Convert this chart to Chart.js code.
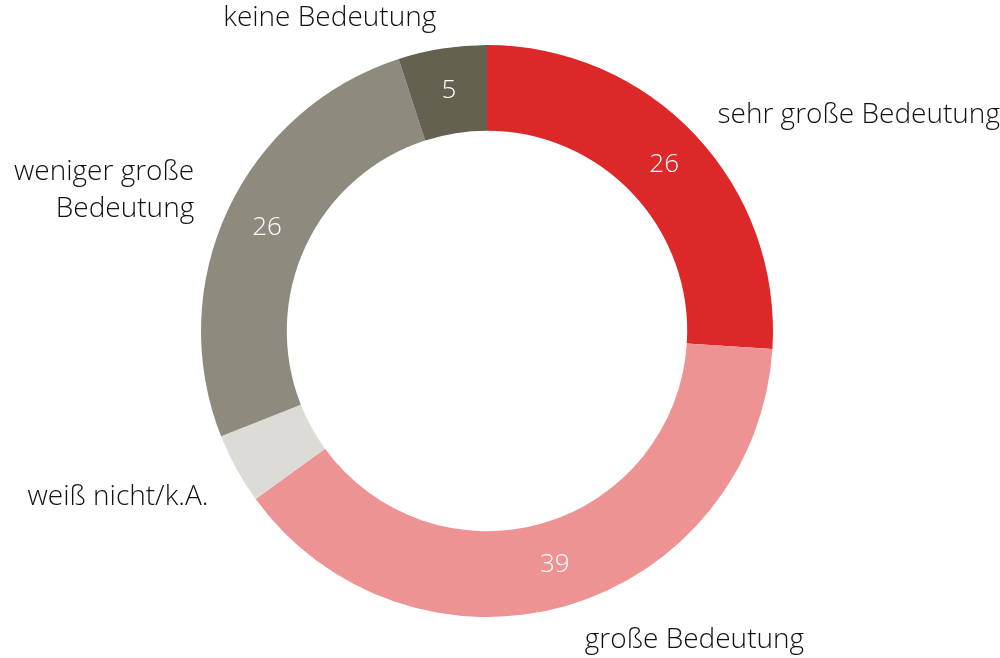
<!DOCTYPE html>
<html>
<head>
  <title>Bedeutung</title>
  <style>
    html, body { margin: 0; padding: 0; background: #ffffff; }
    .chart-container { width: 1000px; height: 658px; }
  </style>
</head>
<body>
  <div class="chart-container">
    <canvas id="donutChart" width="1000" height="658"></canvas>
  </div>

  <script src="https://cdn.jsdelivr.net/npm/chart.js"></script>
  <script>
    const categories = ['sehr große Bedeutung', 'große Bedeutung', 'weiß nicht/k.A.', 'weniger große Bedeutung', 'keine Bedeutung'];
    const values = [26, 39, 4, 26, 5];
    const colors = ['#dc2828', '#ed9393', '#dcdbd6', '#8e8b7e', '#646151'];

    // Beschriftung außen: Zeilen, Ausrichtung, Versatz vom äußeren Rand in Segmentmitte
    const outerLabels = [
      { lines: ['sehr große Bedeutung'], align: 'left', dx: 22, dy: -20 },
      { lines: ['große Bedeutung'], align: 'left', dx: 18, dy: 34 },
      { lines: ['weiß nicht/k.A.'], align: 'right', dx: -28, dy: 28 },
      { lines: ['weniger große', 'Bedeutung'], align: 'right', dx: -34, dy: -19 },
      { lines: ['keine Bedeutung'], align: 'right', dx: -6, dy: -30 }
    ];
    const minInside = 5;
    const fontFamily = '"Open Sans", sans-serif';

    const labelPlugin = {
      id: 'labels',
      afterDatasetsDraw(chart) {
        const ctx = chart.ctx;
        const meta = chart.getDatasetMeta(0);
        ctx.save();
        ctx.textBaseline = 'middle';
        meta.data.forEach((arc, i) => {
          const p = arc.getProps(['x', 'y', 'startAngle', 'endAngle', 'outerRadius'], true);
          // Wert in Ring
          if (values[i] >= minInside) {
            const c = arc.tooltipPosition(true);
            ctx.font = '300 26px ' + fontFamily;
            ctx.fillStyle = '#ffffff';
            ctx.textAlign = 'center';
            ctx.fillText(String(values[i]), c.x, c.y);
          }
          // Kategorie außen
          const mid = (p.startAngle + p.endAngle) / 2;
          const ax = p.x + Math.cos(mid) * p.outerRadius;
          const ay = p.y + Math.sin(mid) * p.outerRadius;
          const lab = outerLabels[i];
          const lh = 37;
          ctx.font = '300 28px ' + fontFamily;
          ctx.fillStyle = '#111111';
          ctx.textAlign = lab.align;
          const y0 = ay + lab.dy - (lab.lines.length - 1) * lh / 2;
          lab.lines.forEach((t, k) => ctx.fillText(t, ax + lab.dx, y0 + k * lh));
        });
        ctx.restore();
      }
    };

    new Chart(document.getElementById('donutChart').getContext('2d'), {
      type: 'doughnut',
      data: {
        labels: categories,
        datasets: [{
          data: values,
          backgroundColor: colors,
          borderWidth: 0,
          hoverOffset: 0
        }]
      },
      options: {
        responsive: false,
        animation: false,
        cutout: '70%',
        layout: { padding: { left: 200, right: 226, top: 45, bottom: 41 } },
        plugins: {
          legend: { display: false },
          tooltip: { enabled: false }
        }
      },
      plugins: [labelPlugin]
    });
  </script>
</body>
</html>
